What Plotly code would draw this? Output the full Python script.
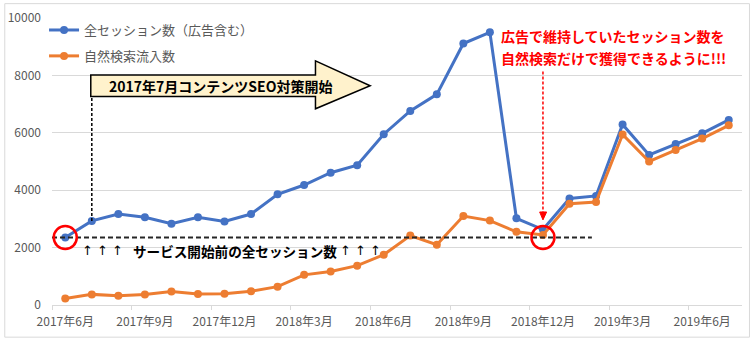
import plotly.graph_objects as go

# Monthly sessions, June 2017 - July 2019
months = [
    "2017年6月", "2017年7月", "2017年8月", "2017年9月", "2017年10月", "2017年11月",
    "2017年12月", "2018年1月", "2018年2月", "2018年3月", "2018年4月", "2018年5月",
    "2018年6月", "2018年7月", "2018年8月", "2018年9月", "2018年10月", "2018年11月",
    "2018年12月", "2019年1月", "2019年2月", "2019年3月", "2019年4月", "2019年5月",
    "2019年6月", "2019年7月",
]
total_sessions = [2350, 2930, 3170, 3060, 2830, 3060, 2910, 3170, 3860, 4180, 4610, 4870,
                  5950, 6760, 7340, 9110, 9500, 3020, 2630, 3710, 3800, 6290, 5230, 5610,
                  5980, 6450]
organic_sessions = [230, 370, 320, 370, 470, 380, 390, 480, 640, 1050, 1170, 1370,
                    1750, 2420, 2100, 3100, 2940, 2550, 2440, 3530, 3590, 5940, 5000, 5400,
                    5800, 6260]
series_names = ["全セッション数（広告含む）", "自然検索流入数"]
tick_every = 3

FONT = "Noto Sans CJK JP"
BLUE = "#4472C4"
ORANGE = "#ED7D31"
GRID = "#D9D9D9"
LABEL = "#595959"

W, H = 750, 338
L, R, T, B = 48, 8, 15, 33
PW, PH = W - L - R, H - T - B
XMIN, XMAX = -0.5, len(months) - 0.5
YMIN, YMAX = 0, 10000


def xd(px):
    """pixel column -> x data value"""
    return XMIN + (px - L) / PW * (XMAX - XMIN)


def yd(py):
    """pixel row -> y data value"""
    return YMIN + (H - B - py) / PH * (YMAX - YMIN)


def xp(px):
    return (px - L) / PW


def yp(py):
    return (H - B - py) / PH


x = list(range(len(months)))

fig = go.Figure()
fig.add_trace(go.Scatter(
    x=x, y=total_sessions, name=series_names[0], mode="lines+markers",
    line=dict(color=BLUE, width=3), marker=dict(color=BLUE, size=8),
    legendgroup="a",
))
fig.add_trace(go.Scatter(
    x=x, y=organic_sessions, name=series_names[1], mode="lines+markers",
    line=dict(color=ORANGE, width=3), marker=dict(color=ORANGE, size=8),
    legendgroup="b",
))

shapes = []
annotations = []

# chart frame
shapes.append(dict(type="rect", xref="paper", yref="paper",
                   x0=xp(0.5), x1=xp(W - 0.5), y0=yp(H - 0.5), y1=yp(0.5),
                   line=dict(color=GRID, width=1), layer="below"))

# block arrow: content SEO start
bl, br, tip = 87, 313, 368
bt, bb, ht, hb = 72.7, 94.3, 58.3, 106.7
my = (bt + bb) / 2
path = (f"M {xd(bl)},{yd(bt)} L {xd(br)},{yd(bt)} L {xd(br)},{yd(ht)} "
        f"L {xd(tip)},{yd(my)} L {xd(br)},{yd(hb)} L {xd(br)},{yd(bb)} "
        f"L {xd(bl)},{yd(bb)} Z")
shapes.append(dict(type="path", xref="x", yref="y", path=path,
                   fillcolor="#FFF2CC", line=dict(color="#000000", width=1.5)))
annotations.append(dict(xref="x", yref="y", x=xd(103), y=yd(my), xanchor="left",
                        yanchor="middle", showarrow=False,
                        text="<b>2017年7月コンテンツSEO対策開始</b>",
                        font=dict(family=FONT, size=14, color="#000000")))

# dashed drop line from arrow to July 2017
shapes.append(dict(type="line", xref="x", yref="y", x0=1, x1=1,
                   y0=total_sessions[1], y1=yd(bb),
                   line=dict(color="#000000", width=1.5, dash="3px,2px")))

# baseline: sessions before launch
shapes.append(dict(type="line", xref="x", yref="y", x0=XMIN, x1=xd(591),
                   y0=total_sessions[0], y1=total_sessions[0],
                   line=dict(color="#262626", width=2, dash="5px,3px")))
ARROW_FONT = dict(family="DejaVu Sans", size=13, color="#000000")
for text, px, fnt in [
    ("↑ ↑ ↑", 76, ARROW_FONT),
    ("<b>サービス開始前の全セッション数</b>", 127, dict(family=FONT, size=13.6, color="#000000")),
    ("↑ ↑ ↑", 336, ARROW_FONT),
]:
    annotations.append(dict(xref="x", yref="y", x=xd(px), y=yd(250), xanchor="left",
                            yanchor="middle", showarrow=False, text=text, font=fnt))

# red circles
for cx, cy in [(0, total_sessions[0]), (18, total_sessions[0])]:
    shapes.append(dict(type="circle", xref="x", yref="y", xsizemode="pixel",
                       ysizemode="pixel", xanchor=cx, yanchor=cy,
                       x0=-11.5, x1=11.5, y0=-11.5, y1=11.5,
                       line=dict(color="#FF0000", width=2.5)))

# red dashed pointer
shapes.append(dict(type="line", xref="x", yref="y", x0=18, x1=18,
                   y0=yd(69), y1=yd(212),
                   line=dict(color="#FF0000", width=1.5, dash="3px,2px")))
shapes.append(dict(type="path", xref="x", yref="y",
                   path=f"M {xd(538.5)},{yd(211)} L {xd(545.5)},{yd(211)} L 18,{yd(219)} Z",
                   fillcolor="#FF0000", line=dict(color="#FF0000", width=1)))
for text, py in [("広告で維持していたセッション数を", 33), ("自然検索だけで獲得できるように!!!", 55)]:
    annotations.append(dict(xref="x", yref="y", x=xd(498), y=yd(py), xanchor="left",
                            yanchor="middle", showarrow=False, text=f"<b>{text}</b>",
                            font=dict(family=FONT, size=14, color="#FF0000")))

tickvals = x[::tick_every]
ticktext = months[::tick_every]

fig.update_layout(
    width=W, height=H,
    margin=dict(l=L, r=R, t=T, b=B),
    paper_bgcolor="#FFFFFF", plot_bgcolor="#FFFFFF",
    font=dict(family=FONT, color=LABEL, size=12),
    showlegend=True,
    legend=dict(x=xp(40), y=yp(12), xanchor="left", yanchor="top",
                bgcolor="rgba(0,0,0,0)", font=dict(family=FONT, size=13, color=LABEL),
                tracegroupgap=6, itemwidth=30),
    xaxis=dict(range=[XMIN, XMAX], tickmode="array", tickvals=tickvals, ticktext=ticktext,
               showgrid=False, zeroline=False, showline=True, linecolor=GRID, linewidth=1,
               ticks="", ticklabelstandoff=6, tickfont=dict(size=12, color=LABEL),
               minor=dict(tick0=-0.5, dtick=tick_every, ticks="outside", ticklen=4,
                          tickcolor=GRID, showgrid=False)),
    yaxis=dict(range=[YMIN, YMAX], dtick=2000, tickformat="d", showgrid=True,
               gridcolor=GRID, gridwidth=1, zeroline=False, showline=False, ticks="",
               ticklabelstandoff=10, tickfont=dict(size=12, color=LABEL)),
    shapes=shapes,
    annotations=annotations,
)

fig.write_html("out.html")
